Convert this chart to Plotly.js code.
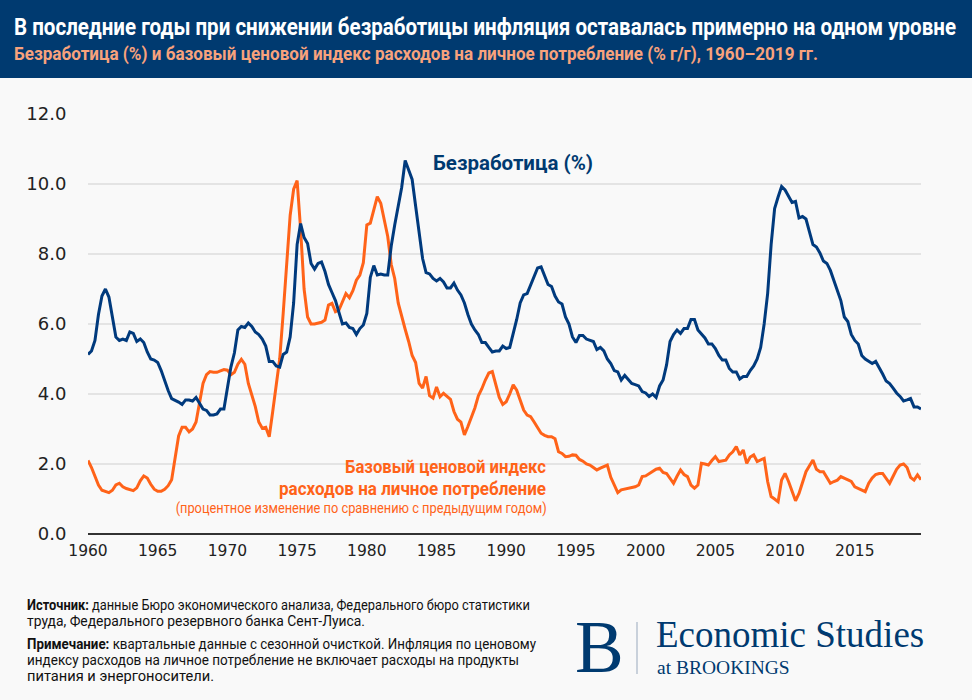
<!DOCTYPE html>
<html>
<head>
<meta charset="utf-8">
<script src="https://cdn.plot.ly/plotly-3.0.1.min.js"></script>
<style>
  html, body { margin: 0; padding: 0; background: #f9f9f9; }
  #chart { width: 972px; height: 700px; }
</style>
</head>
<body>
<div id="chart"></div>
<script>
// ---------------- DATA ----------------
const startYear = 1960;           // first quarter: 1960 Q1
const xTickYears = [1960, 1965, 1970, 1975, 1980, 1985, 1990, 1995, 2000, 2005, 2010, 2015];
const xTickLabels = ["1960", "1965", "1970", "1975", "1980", "1985", "1990", "1995", "2000", "2005", "2010", "2015"];
const yTickVals = [0, 2, 4, 6, 8, 10, 12];
const yTickLabels = ["0.0", "2.0", "4.0", "6.0", "8.0", "10.0", "12.0"];

// Unemployment rate (%), quarterly 1960Q1–2019Q4
const unemployment = [
  5.13, 5.23, 5.53, 6.27,  6.80, 7.00, 6.77, 6.20,  5.63, 5.53, 5.57, 5.53,  5.77, 5.73, 5.50, 5.57,
  5.47, 5.20, 5.00, 4.97,  4.90, 4.67, 4.37, 4.10,  3.87, 3.83, 3.77, 3.70,  3.83, 3.83, 3.80, 3.90,
  3.73, 3.57, 3.53, 3.40,  3.40, 3.43, 3.57, 3.57,  4.17, 4.77, 5.17, 5.83,  5.93, 5.90, 6.03, 5.93,
  5.77, 5.70, 5.57, 5.37,  4.93, 4.93, 4.80, 4.77,  5.13, 5.20, 5.63, 6.60,  8.27, 8.87, 8.47, 8.30,
  7.73, 7.57, 7.73, 7.77,  7.50, 7.13, 6.90, 6.67,  6.33, 6.00, 6.03, 5.90,  5.87, 5.70, 5.87, 5.97,
  6.30, 7.33, 7.67, 7.40,  7.43, 7.40, 7.40, 8.23,  8.83, 9.43, 9.90, 10.67, 10.37, 10.13, 9.37, 8.53,
  7.87, 7.47, 7.43, 7.30,  7.23, 7.30, 7.20, 7.03,  7.03, 7.17, 6.97, 6.83,  6.60, 6.27, 6.00, 5.83,
  5.70, 5.47, 5.47, 5.33,  5.20, 5.23, 5.23, 5.37,  5.30, 5.33, 5.70, 6.13,  6.60, 6.83, 6.87, 7.10,
  7.37, 7.60, 7.63, 7.37,  7.13, 7.07, 6.80, 6.63,  6.57, 6.20, 6.00, 5.63,  5.47, 5.67, 5.67, 5.57,
  5.53, 5.50, 5.27, 5.33,  5.23, 5.00, 4.87, 4.67,  4.63, 4.40, 4.53, 4.43,  4.30, 4.27, 4.23, 4.07,
  4.03, 3.93, 4.00, 3.90,  4.23, 4.40, 4.83, 5.50,  5.70, 5.83, 5.73, 5.87,  5.87, 6.13, 6.13, 5.83,
  5.70, 5.60, 5.43, 5.43,  5.30, 5.10, 4.97, 4.97,  4.73, 4.63, 4.63, 4.43,  4.50, 4.50, 4.67, 4.80,
  5.00, 5.33, 6.00, 6.87,  8.27, 9.30, 9.63, 9.93,  9.83, 9.63, 9.47, 9.50,  9.03, 9.07, 9.00, 8.63,
  8.27, 8.20, 8.03, 7.80,  7.73, 7.53, 7.23, 6.93,  6.67, 6.20, 6.07, 5.70,  5.53, 5.43, 5.10, 5.00,
  4.93, 4.87, 4.93, 4.77,  4.57, 4.37, 4.30, 4.17,  4.03, 3.93, 3.80, 3.83,  3.87, 3.63, 3.63, 3.57
];

// Core PCE price index, % change year over year, quarterly 1960Q1–2019Q4
const corePCE = [
  2.10, 1.90, 1.65, 1.40,  1.25, 1.22, 1.18, 1.25,  1.40, 1.45, 1.35, 1.30,  1.26, 1.24, 1.32, 1.52,
  1.66, 1.60, 1.42, 1.28,  1.22, 1.22, 1.28, 1.38,  1.55, 2.20, 2.80, 3.05,  3.05, 2.92, 3.00, 3.20,
  3.80, 4.30, 4.55, 4.64,  4.62, 4.62, 4.66, 4.70,  4.68, 4.55, 4.62, 4.85,  4.99, 4.85, 4.30, 3.95,
  3.64, 3.20, 3.02, 3.05,  2.78, 3.50, 4.30, 5.00,  6.30, 7.80, 9.10, 9.85,  10.10, 8.70, 7.00, 6.20,
  6.00, 6.00, 6.02, 6.05,  6.11, 6.54, 6.59, 6.35,  6.40, 6.62, 6.87, 6.75,  6.95, 7.25, 7.40, 7.75,
  8.83, 8.88, 9.30, 9.64,  9.45, 9.00, 8.50, 7.70,  7.30, 6.60, 6.20, 5.85,  5.50, 5.10, 4.90, 4.30,
  4.17, 4.50, 3.95, 3.88,  4.20, 3.92, 4.02, 3.92,  3.85, 3.50, 3.28, 3.20,  2.83, 3.07, 3.35, 3.60,
  3.95, 4.15, 4.40, 4.60,  4.64, 4.30, 3.90, 3.70,  3.78, 4.00, 4.26, 4.11,  3.85, 3.54, 3.40, 3.35,
  3.20, 3.05, 2.88, 2.82,  2.78, 2.78, 2.72, 2.35,  2.30, 2.21, 2.22, 2.26,  2.25, 2.13, 2.08, 2.00,
  1.97, 1.90, 1.83, 1.88,  1.92, 1.97, 1.62, 1.40,  1.18, 1.26, 1.28, 1.30,  1.32, 1.35, 1.40, 1.64,
  1.66, 1.73, 1.80, 1.85,  1.88, 1.76, 1.73, 1.58,  1.45, 1.65, 1.83, 1.70,  1.64, 1.40, 1.31, 1.40,
  2.02, 2.00, 1.97, 2.10,  2.21, 2.07, 2.10, 2.11,  2.26, 2.35, 2.50, 2.26,  2.40, 2.02, 2.20, 2.26,
  2.07, 2.12, 2.16, 1.50,  1.07, 1.00, 0.92, 1.54,  1.73, 1.50, 1.25, 0.95,  1.16, 1.50, 1.78, 1.95,
  2.11, 1.85, 1.78, 1.78,  1.60, 1.45, 1.50, 1.54,  1.64, 1.60, 1.54, 1.50,  1.35, 1.30, 1.25, 1.21,
  1.45, 1.60, 1.70, 1.73,  1.73, 1.60, 1.45, 1.65,  1.85, 1.97, 2.00, 1.90,  1.62, 1.54, 1.69, 1.55
];

// quarter positions (fractional years)
const quarters = unemployment.map((_, i) => startYear + i / 4);

// ---------------- LAYOUT HELPERS ----------------
const W = 972, H = 700;
const M = { l: 88, r: 51, t: 114, b: 166 };
const PW = W - M.l - M.r, PH = H - M.t - M.b;
const px = x => (x - M.l) / PW;          // pixel x -> paper x
const py = y => (H - M.b - y) / PH;      // pixel y -> paper y

const NAVY = "#003a70";
const LINE_BLUE = "#003a7d";
const ORANGE = "#ff6319";
const SANS = "Roboto, 'Liberation Sans', sans-serif";
const SERIF = "'Liberation Serif', 'DejaVu Serif', serif";

function txt(text, x, y, size, color, opts) {
  opts = opts || {};
  return {
    text: text, xref: "paper", yref: "paper", x: px(x), y: py(y),
    xanchor: opts.xanchor || "left", yanchor: opts.yanchor || "middle",
    showarrow: false, align: opts.align || "left", borderpad: 0,
    font: { family: opts.family || SANS, size: size, color: color }
  };
}

// target widths (px) of condensed texts, by annotation index
const fitWidths = { 0: 942, 1: 804, 2: 160, 3: 201, 4: 267, 5: 371, 6: 503, 7: 338, 8: 509, 9: 492, 10: 187 };

const traces = [
  {
    x: quarters, y: corePCE, type: "scatter", mode: "lines",
    line: { color: ORANGE, width: 3 }, hoverinfo: "skip", name: "core PCE"
  },
  {
    x: quarters, y: unemployment, type: "scatter", mode: "lines",
    line: { color: LINE_BLUE, width: 3 }, hoverinfo: "skip", name: "unemployment"
  }
];

const layout = {
  width: W, height: H,
  margin: M,
  paper_bgcolor: "#f9f9f9",
  plot_bgcolor: "#f9f9f9",
  showlegend: false,
  xaxis: {
    range: [1960, 2019.75],
    tickvals: xTickYears, ticktext: xTickLabels,
    showgrid: false, zeroline: false,
    showline: false, ticks: "outside", ticklen: 2, tickcolor: "rgba(0,0,0,0)",
    tickfont: { family: "'DejaVu Sans', sans-serif", size: 15.5, color: "#222" },
    fixedrange: true
  },
  yaxis: {
    range: [0, 12],
    tickvals: yTickVals, ticktext: yTickLabels,
    showgrid: true, gridcolor: "#e4e4e4", gridwidth: 1.5,
    zeroline: true, zerolinecolor: "#333", zerolinewidth: 1.5,
    showline: false, ticks: "outside", ticklen: 17, tickcolor: "rgba(0,0,0,0)",
    tickfont: { family: "'DejaVu Sans', sans-serif", size: 18, color: "#222" },
    fixedrange: true
  },
  shapes: [
    { type: "rect", xref: "paper", yref: "paper", x0: px(0), x1: px(W), y0: py(0), y1: py(78),
      fillcolor: NAVY, line: { width: 0 }, layer: "below" },
    { type: "line", xref: "paper", yref: "paper", x0: px(637), x1: px(637), y0: py(622), y1: py(674),
      line: { color: "#b9c3d0", width: 1.5 } }
  ],
  annotations: [
    txt("<b>В последние годы при снижении безработицы инфляция оставалась примерно на одном уровне</b>", 13, 27, 24, "#ffffff"),
    txt("<b>Безработица (%) и базовый ценовой индекс расходов на личное потребление (% г/г), 1960–2019 гг.</b>", 13, 54, 18, "#f8a27c"),
    txt("<b>Безработица (%)</b>", 513, 163, 21, NAVY, { xanchor: "center", align: "center" }),
    txt("<b>Базовый ценовой индекс</b>", 547, 466, 19, ORANGE, { xanchor: "right", align: "right" }),
    txt("<b>расходов на личное потребление</b>", 547, 488, 19, ORANGE, { xanchor: "right", align: "right" }),
    txt("(процентное изменение по сравнению с предыдущим годом)", 548, 508, 14, ORANGE, { xanchor: "right", align: "right" }),
    txt("<b>Источник:</b> данные Бюро экономического анализа, Федерального бюро статистики", 26, 605, 14.5, "#111"),
    txt("труда, Федерального резервного банка Сент-Луиса.", 26, 621, 14.5, "#111"),
    txt("<b>Примечание:</b> квартальные данные с сезонной очисткой. Инфляция по ценовому", 26, 644, 14.5, "#111"),
    txt("индексу расходов на личное потребление не включает расходы на продукты", 26, 660, 14.5, "#111"),
    txt("питания и энергоносители.", 26, 676, 14.5, "#111"),
    txt("B", 574, 647, 73, NAVY, { family: SERIF }),
    txt("Economic Studies", 655, 634, 37, NAVY, { family: SERIF }),
    txt("at BROOKINGS", 656, 667, 19.5, NAVY, { family: SERIF })
  ]
};

Plotly.newPlot("chart", traces, layout, { staticPlot: true, displayModeBar: false }).then(gd => {
  Object.keys(fitWidths).forEach(i => {
    const g = gd.querySelector('.annotation[data-index="' + i + '"]');
    if (!g) return;
    const t = g.querySelector("text.annotation-text");
    if (!t) return;
    t.setAttribute("textLength", fitWidths[i]);
    t.setAttribute("lengthAdjust", "spacingAndGlyphs");
    // keep the (invisible) background box in step with the condensed text
    const r = g.querySelector("rect.bg");
    if (r) {
      const b = t.getBBox();
      r.setAttribute("x", b.x);
      r.setAttribute("width", b.width);
    }
  });
});
</script>
</body>
</html>
